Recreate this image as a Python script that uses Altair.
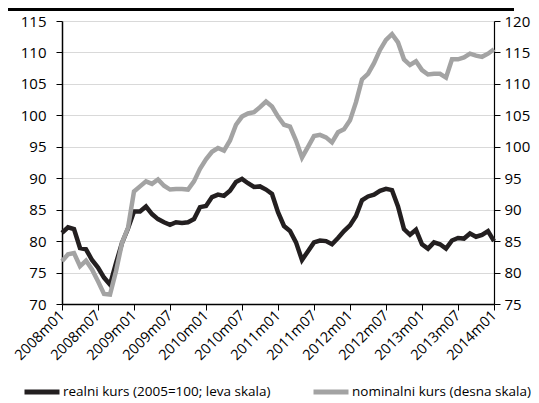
import altair as alt
import pandas as pd

months = [f"{y}m{m:02d}" for y in range(2008, 2015) for m in range(1, 13)][:73]
tick_labels = ["2008m01", "2008m07", "2009m01", "2009m07", "2010m01", "2010m07",
               "2011m01", "2011m07", "2012m01", "2012m07", "2013m01", "2013m07", "2014m01"]

real = [81.3, 82.2, 81.9, 78.9, 78.7, 77.0, 75.8, 74.2, 73.1, 76.5, 79.7, 82.0,
        84.7, 84.7, 85.5, 84.3, 83.5, 83.0, 82.6, 83.0, 82.9, 83.0, 83.5, 85.4,
        85.6, 87.0, 87.4, 87.2, 88.0, 89.4, 89.9, 89.2, 88.6, 88.7, 88.2, 87.5,
        84.6, 82.4, 81.6, 79.8, 77.0, 78.4, 79.8, 80.1, 80.0, 79.5, 80.5, 81.6,
        82.5, 84.0, 86.5, 87.1, 87.4, 88.0, 88.3, 88.1, 85.5, 81.9, 81.0, 81.8,
        79.5, 78.8, 79.8, 79.5, 78.8, 80.1, 80.5, 80.4, 81.2, 80.7, 81.0, 81.6,
        80.0]

nominal = [81.8, 82.9, 83.1, 81.0, 81.9, 80.5, 78.6, 76.6, 76.5, 80.2, 84.7, 87.1,
           92.9, 93.7, 94.5, 94.1, 94.8, 93.8, 93.2, 93.3, 93.3, 93.2, 94.5, 96.5,
           98.0, 99.2, 99.8, 99.4, 101.0, 103.5, 104.8, 105.3, 105.5, 106.3, 107.2, 106.4,
           104.8, 103.5, 103.2, 101.0, 98.3, 100.0, 101.7, 101.9, 101.5, 100.7, 102.3, 102.8,
           104.2, 107.1, 110.7, 111.6, 113.3, 115.4, 117.0, 117.9, 116.6, 113.9, 113.0, 113.6,
           112.2, 111.5, 111.6, 111.6, 111.0, 113.9, 113.9, 114.2, 114.8, 114.5, 114.3, 114.8,
           115.5]

series_names = ["realni kurs (2005=100; leva skala)", "nominalni kurs (desna skala)"]
colors = ["#231f20", "#a3a3a3"]
left_ticks = [70, 75, 80, 85, 90, 95, 100, 105, 110, 115]
right_ticks = [75, 80, 85, 90, 95, 100, 105, 110, 115, 120]

df_real = pd.DataFrame({"month": months, "value": real, "series": series_names[0]})
df_nom = pd.DataFrame({"month": months, "value": nominal, "series": series_names[1]})

FONT = "Open Sans"

xenc = alt.X("month:O", sort=months,
             scale=alt.Scale(type="point", padding=0),
             axis=alt.Axis(values=tick_labels, title=None, labelAngle=-45,
                           labelAlign="right", labelBaseline="middle",
                           labelPadding=3, tickSize=6, grid=False,
                           labelFontSize=14.5, domainWidth=1.5))

color = alt.Color("series:N",
                  scale=alt.Scale(domain=series_names, range=colors),
                  legend=alt.Legend(title=None, orient="none", legendX=-40, legendY=351,
                                    direction="horizontal", symbolType="stroke",
                                    symbolSize=1225, symbolStrokeWidth=5,
                                    labelFont=FONT, labelFontSize=13.5, labelColor="black",
                                    columnPadding=32, labelOffset=1, labelLimit=400))

left = alt.Chart(df_real).mark_line(strokeWidth=4.5).encode(
    x=xenc,
    y=alt.Y("value:Q",
            scale=alt.Scale(domain=[70, 115], nice=False, zero=False),
            axis=alt.Axis(orient="left", values=left_ticks, title=None, grid=True,
                          gridColor="#d9d9d9", gridWidth=1.2, tickSize=6,
                          labelPadding=10, domainWidth=1.5)),
    color=color,
)

right = alt.Chart(df_nom).mark_line(strokeWidth=4.5).encode(
    x=xenc,
    y=alt.Y("value:Q",
            scale=alt.Scale(domain=[75, 120], nice=False, zero=False),
            axis=alt.Axis(orient="right", values=right_ticks, title=None, grid=False,
                          tickSize=6, labelPadding=4, domainWidth=1.2)),
    color=color,
)

bar = alt.Chart(pd.DataFrame({"a": [0]})).mark_rule(color="black", strokeWidth=4).encode(
    x=alt.value(-54), x2=alt.value(452), y=alt.value(-12)
)

chart = alt.layer(left, right, bar).resolve_scale(y="independent").properties(
    width=432, height=283,
    autosize=alt.AutoSizeParams(type="none"),
    padding={"left": 54, "top": 13, "right": 37, "bottom": 97},
).configure_view(stroke=None).configure_axis(
    labelFont=FONT, labelFontSize=15, labelColor="black",
    domainColor="black", tickColor="black",
)

chart.save("out.html", embed_options={"renderer": "svg", "actions": False})
